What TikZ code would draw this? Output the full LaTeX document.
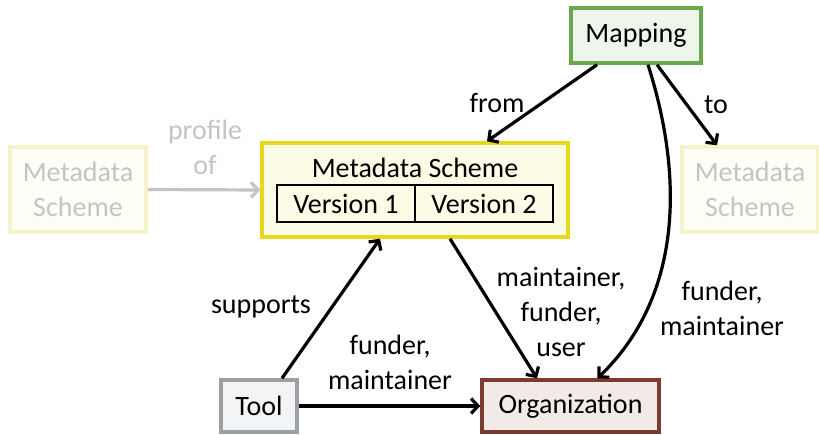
\documentclass[tikz,border=0pt]{standalone}
\usepackage{fontspec}
\setmainfont{Carlito}
\usetikzlibrary{arrows.meta}

\definecolor{mapgreen}{HTML}{6AA84F}
\definecolor{mapfill}{HTML}{EEF5EA}
\definecolor{schemeyellow}{HTML}{E8D81A}
\definecolor{schemefill}{HTML}{FCFBE6}
\definecolor{fadeborder}{HTML}{F7F3C8}
\definecolor{fadefill}{HTML}{FEFEF6}
\definecolor{fadetext}{HTML}{C4C4C4}
\definecolor{toolgrey}{HTML}{9AA0A6}
\definecolor{toolfill}{HTML}{F3F4F6}
\definecolor{orgbrown}{HTML}{7B3B2E}
\definecolor{orgfill}{HTML}{F2EAE6}

\tikzset{
  box/.style={draw, line width=3.5pt, inner sep=0pt, align=center},
  rel/.style={line width=3.2pt, -{Straight Barb[length=7pt,width=15pt]}},
  lbl/.style={align=center, inner sep=0pt},
  verbox/.style={draw=black, line width=1.2pt, fill=schemefill, minimum width=138pt, minimum height=37pt, inner sep=0pt}
}

\begin{document}
\begin{tikzpicture}[x=1pt, y=1pt, font=\fontsize{28}{35}\selectfont]
\useasboundingbox (0,0) rectangle (819,434);

% boxes
\node[box, draw=mapgreen, fill=mapfill, minimum width=130pt, minimum height=55pt] (mapping) at (636,398.5) {Mapping};
\node[box, draw=schemeyellow, fill=schemefill, minimum width=306pt, minimum height=94pt] (scheme) at (415,244) {};
\node[lbl] (title) at (415,266) {Metadata Scheme};
\node[verbox] (v1) at (346,230.5) {Version 1};
\node[verbox] (v2) at (484,230.5) {Version 2};
\node[box, draw=fadeborder, fill=fadefill, text=fadetext, minimum width=136pt, minimum height=85pt] (leftscheme) at (78,244.5) {Metadata\\Scheme};
\node[box, draw=fadeborder, fill=fadefill, text=fadetext, minimum width=136pt, minimum height=85pt] (rightscheme) at (750,244.5) {Metadata\\Scheme};
\node[box, draw=toolgrey, fill=toolfill, minimum width=76pt, minimum height=52pt] (tool) at (259,28) {Tool};
\node[box, draw=orgbrown, fill=orgfill, minimum width=177pt, minimum height=52pt] (org) at (570.5,28) {Organization};

% relations
\draw[rel, draw=fadetext] (leftscheme.east) -- (scheme.west);
\node[lbl, text=fadetext] (profileof) at (205,287) {profile\\of};

\draw[rel] ([xshift=-39pt]mapping.south) -- ([xshift=72pt]scheme.north);
\node[lbl] (from) at (497,331) {from};

\draw[rel] ([xshift=21pt]mapping.south) -- ([xshift=-33pt]rightscheme.north);
\node[lbl] (to) at (716,329) {to};

\draw[rel] ([xshift=12pt]mapping.south) .. controls +(37,-116) and +(83,80) .. ([xshift=27pt]org.north);
\node[lbl] (mapfunder) at (722,126) {funder,\\maintainer};

\draw[rel] ([xshift=35pt]scheme.south) -- ([xshift=-33.5pt]org.north);
\node[lbl] (schemeorg) at (561,122) {maintainer,\\funder,\\user};

\draw[rel] ([xshift=23pt]tool.north) -- ([xshift=-35pt]scheme.south);
\node[lbl] (supports) at (261,127) {supports};

\draw[rel] (tool.east) -- (org.west);
\node[lbl] (toolfunder) at (390,72) {funder,\\maintainer};
\end{tikzpicture}
\end{document}
